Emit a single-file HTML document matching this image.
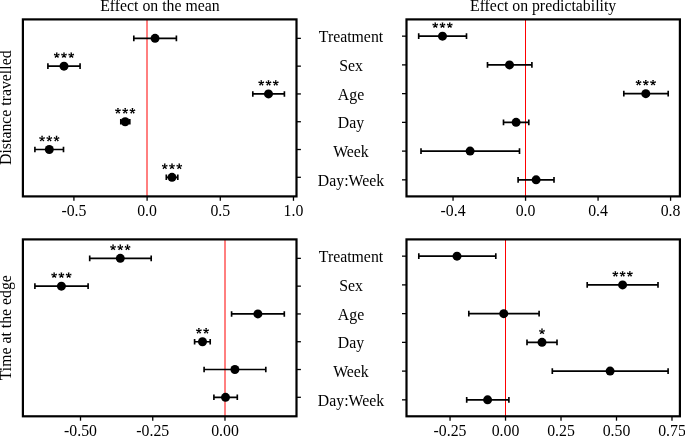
<!DOCTYPE html>
<html><head><meta charset="utf-8"><style>
html,body{margin:0;padding:0;background:#fff;width:685px;height:436px;overflow:hidden}
svg{display:block;will-change:transform}
text{font-family:'Liberation Serif', serif;font-size:15.8px;fill:#000}
</style></head><body>
<svg width="685" height="436" viewBox="0 0 685 436">
<defs><path id="st" d="M0.350 0.000L0.850 -2.850L-0.850 -2.850L-0.350 -0.000ZM0.108 0.333L2.973 -0.072L2.448 -1.689L-0.108 -0.333ZM-0.283 0.206L0.988 2.805L2.363 1.806L0.283 -0.206ZM-0.283 -0.206L-2.363 1.806L-0.988 2.805L0.283 0.206ZM0.108 -0.333L-2.448 -1.689L-2.973 -0.072L-0.108 0.333Z"/></defs>
<line x1="147.0" y1="19.4" x2="147.0" y2="196.4" stroke="#ff0000" stroke-width="1"/>
<line x1="73.91" y1="196.4" x2="73.91" y2="200.8" stroke="#000" stroke-width="1.3"/>
<text x="73.91" y="216.0" text-anchor="middle">-0.5</text>
<line x1="147.1" y1="196.4" x2="147.1" y2="200.8" stroke="#000" stroke-width="1.3"/>
<text x="147.1" y="216.0" text-anchor="middle">0.0</text>
<line x1="220.28" y1="196.4" x2="220.28" y2="200.8" stroke="#000" stroke-width="1.3"/>
<text x="220.28" y="216.0" text-anchor="middle">0.5</text>
<line x1="293.47" y1="196.4" x2="293.47" y2="200.8" stroke="#000" stroke-width="1.3"/>
<text x="293.47" y="216.0" text-anchor="middle">1.0</text>
<line x1="296.5" y1="38.36" x2="300.9" y2="38.36" stroke="#000" stroke-width="1.3"/>
<line x1="296.5" y1="66.15" x2="300.9" y2="66.15" stroke="#000" stroke-width="1.3"/>
<line x1="296.5" y1="93.94" x2="300.9" y2="93.94" stroke="#000" stroke-width="1.3"/>
<line x1="296.5" y1="121.73" x2="300.9" y2="121.73" stroke="#000" stroke-width="1.3"/>
<line x1="296.5" y1="149.52" x2="300.9" y2="149.52" stroke="#000" stroke-width="1.3"/>
<line x1="296.5" y1="177.31" x2="300.9" y2="177.31" stroke="#000" stroke-width="1.3"/>
<path d="M133.8 38.36H176.4M133.8 35.56V41.16M176.4 35.56V41.16" stroke="#000" stroke-width="1.65" fill="none"/>
<circle cx="155.05" cy="38.36" r="4.5"/>
<path d="M47.9 66.15H80.07M47.9 63.35V68.95M80.07 63.35V68.95" stroke="#000" stroke-width="1.65" fill="none"/>
<circle cx="64" cy="66.15" r="4.5"/>
<use href="#st" x="56.75" y="55.25"/>
<use href="#st" x="64" y="55.25"/>
<use href="#st" x="71.25" y="55.25"/>
<path d="M252.8 93.94H284.4M252.8 91.14V96.74M284.4 91.14V96.74" stroke="#000" stroke-width="1.65" fill="none"/>
<circle cx="268.5" cy="93.94" r="4.5"/>
<use href="#st" x="261.25" y="83.04"/>
<use href="#st" x="268.5" y="83.04"/>
<use href="#st" x="275.75" y="83.04"/>
<path d="M120.8 121.73H129.8M120.8 118.93V124.53M129.8 118.93V124.53" stroke="#000" stroke-width="1.65" fill="none"/>
<circle cx="125.2" cy="121.73" r="4.5"/>
<use href="#st" x="117.95" y="110.83"/>
<use href="#st" x="125.2" y="110.83"/>
<use href="#st" x="132.45" y="110.83"/>
<path d="M34.9 149.52H63.5M34.9 146.72V152.32M63.5 146.72V152.32" stroke="#000" stroke-width="1.65" fill="none"/>
<circle cx="49.3" cy="149.52" r="4.5"/>
<use href="#st" x="42.05" y="138.62"/>
<use href="#st" x="49.3" y="138.62"/>
<use href="#st" x="56.55" y="138.62"/>
<path d="M166.3 177.31H177.8M166.3 174.51V180.11M177.8 174.51V180.11" stroke="#000" stroke-width="1.65" fill="none"/>
<circle cx="172" cy="177.31" r="4.5"/>
<use href="#st" x="164.75" y="166.41"/>
<use href="#st" x="172" y="166.41"/>
<use href="#st" x="179.25" y="166.41"/>
<rect x="22.9" y="19.4" width="273.6" height="177" fill="none" stroke="#000" stroke-width="2.2"/>
<line x1="525.5" y1="19.4" x2="525.5" y2="196.4" stroke="#ff0000" stroke-width="1"/>
<line x1="453.05" y1="196.4" x2="453.05" y2="200.8" stroke="#000" stroke-width="1.3"/>
<text x="453.05" y="216.0" text-anchor="middle">-0.4</text>
<line x1="525.56" y1="196.4" x2="525.56" y2="200.8" stroke="#000" stroke-width="1.3"/>
<text x="525.56" y="216.0" text-anchor="middle">0.0</text>
<line x1="598.07" y1="196.4" x2="598.07" y2="200.8" stroke="#000" stroke-width="1.3"/>
<text x="598.07" y="216.0" text-anchor="middle">0.4</text>
<line x1="670.58" y1="196.4" x2="670.58" y2="200.8" stroke="#000" stroke-width="1.3"/>
<text x="670.58" y="216.0" text-anchor="middle">0.8</text>
<line x1="402.0" y1="36.15" x2="406.5" y2="36.15" stroke="#000" stroke-width="1.3"/>
<line x1="402.0" y1="64.89" x2="406.5" y2="64.89" stroke="#000" stroke-width="1.3"/>
<line x1="402.0" y1="93.63" x2="406.5" y2="93.63" stroke="#000" stroke-width="1.3"/>
<line x1="402.0" y1="122.37" x2="406.5" y2="122.37" stroke="#000" stroke-width="1.3"/>
<line x1="402.0" y1="151.11" x2="406.5" y2="151.11" stroke="#000" stroke-width="1.3"/>
<line x1="402.0" y1="179.85" x2="406.5" y2="179.85" stroke="#000" stroke-width="1.3"/>
<path d="M418.7 36.15H466.5M418.7 33.35V38.95M466.5 33.35V38.95" stroke="#000" stroke-width="1.65" fill="none"/>
<circle cx="442.5" cy="36.15" r="4.5"/>
<use href="#st" x="435.25" y="25.25"/>
<use href="#st" x="442.5" y="25.25"/>
<use href="#st" x="449.75" y="25.25"/>
<path d="M487.5 64.89H531.9M487.5 62.09V67.69M531.9 62.09V67.69" stroke="#000" stroke-width="1.65" fill="none"/>
<circle cx="509.5" cy="64.89" r="4.5"/>
<path d="M623.8 93.63H668.2M623.8 90.83V96.43M668.2 90.83V96.43" stroke="#000" stroke-width="1.65" fill="none"/>
<circle cx="645.8" cy="93.63" r="4.5"/>
<use href="#st" x="638.55" y="82.73"/>
<use href="#st" x="645.8" y="82.73"/>
<use href="#st" x="653.05" y="82.73"/>
<path d="M503.5 122.37H528.8M503.5 119.57V125.17M528.8 119.57V125.17" stroke="#000" stroke-width="1.65" fill="none"/>
<circle cx="516.1" cy="122.37" r="4.5"/>
<path d="M421 151.11H519.5M421 148.31V153.91M519.5 148.31V153.91" stroke="#000" stroke-width="1.65" fill="none"/>
<circle cx="470.1" cy="151.11" r="4.5"/>
<path d="M518.1 179.85H554M518.1 177.05V182.65M554 177.05V182.65" stroke="#000" stroke-width="1.65" fill="none"/>
<circle cx="536.1" cy="179.85" r="4.5"/>
<rect x="406.5" y="19.4" width="273.4" height="177" fill="none" stroke="#000" stroke-width="2.2"/>
<line x1="225.0" y1="239.4" x2="225.0" y2="416.3" stroke="#ff0000" stroke-width="1"/>
<line x1="80.5" y1="416.3" x2="80.5" y2="420.7" stroke="#000" stroke-width="1.3"/>
<text x="80.5" y="436.0" text-anchor="middle">-0.50</text>
<line x1="152.74" y1="416.3" x2="152.74" y2="420.7" stroke="#000" stroke-width="1.3"/>
<text x="152.74" y="436.0" text-anchor="middle">-0.25</text>
<line x1="224.98" y1="416.3" x2="224.98" y2="420.7" stroke="#000" stroke-width="1.3"/>
<text x="224.98" y="436.0" text-anchor="middle">0.00</text>
<line x1="296.5" y1="258.36" x2="300.9" y2="258.36" stroke="#000" stroke-width="1.3"/>
<line x1="296.5" y1="286.15" x2="300.9" y2="286.15" stroke="#000" stroke-width="1.3"/>
<line x1="296.5" y1="313.94" x2="300.9" y2="313.94" stroke="#000" stroke-width="1.3"/>
<line x1="296.5" y1="341.73" x2="300.9" y2="341.73" stroke="#000" stroke-width="1.3"/>
<line x1="296.5" y1="369.52" x2="300.9" y2="369.52" stroke="#000" stroke-width="1.3"/>
<line x1="296.5" y1="397.31" x2="300.9" y2="397.31" stroke="#000" stroke-width="1.3"/>
<path d="M89.7 258.36H151.2M89.7 255.56V261.16M151.2 255.56V261.16" stroke="#000" stroke-width="1.65" fill="none"/>
<circle cx="120.3" cy="258.36" r="4.5"/>
<use href="#st" x="113.05" y="247.46"/>
<use href="#st" x="120.3" y="247.46"/>
<use href="#st" x="127.55" y="247.46"/>
<path d="M34.9 286.15H88.1M34.9 283.35V288.95M88.1 283.35V288.95" stroke="#000" stroke-width="1.65" fill="none"/>
<circle cx="61.4" cy="286.15" r="4.5"/>
<use href="#st" x="54.15" y="275.25"/>
<use href="#st" x="61.4" y="275.25"/>
<use href="#st" x="68.65" y="275.25"/>
<path d="M231.6 313.94H284.3M231.6 311.14V316.74M284.3 311.14V316.74" stroke="#000" stroke-width="1.65" fill="none"/>
<circle cx="257.9" cy="313.94" r="4.5"/>
<path d="M194.6 341.73H210.2M194.6 338.93V344.53M210.2 338.93V344.53" stroke="#000" stroke-width="1.65" fill="none"/>
<circle cx="202.5" cy="341.73" r="4.5"/>
<use href="#st" x="198.88" y="330.83"/>
<use href="#st" x="206.12" y="330.83"/>
<path d="M204.1 369.52H265.8M204.1 366.72V372.32M265.8 366.72V372.32" stroke="#000" stroke-width="1.65" fill="none"/>
<circle cx="234.9" cy="369.52" r="4.5"/>
<path d="M213.9 397.31H237.3M213.9 394.51V400.11M237.3 394.51V400.11" stroke="#000" stroke-width="1.65" fill="none"/>
<circle cx="225.5" cy="397.31" r="4.5"/>
<rect x="22.9" y="239.4" width="273.6" height="176.9" fill="none" stroke="#000" stroke-width="2.2"/>
<line x1="505.5" y1="239.4" x2="505.5" y2="416.3" stroke="#ff0000" stroke-width="1"/>
<line x1="450.05" y1="416.3" x2="450.05" y2="420.7" stroke="#000" stroke-width="1.3"/>
<text x="450.05" y="436.0" text-anchor="middle">-0.25</text>
<line x1="505.53" y1="416.3" x2="505.53" y2="420.7" stroke="#000" stroke-width="1.3"/>
<text x="505.53" y="436.0" text-anchor="middle">0.00</text>
<line x1="561.01" y1="416.3" x2="561.01" y2="420.7" stroke="#000" stroke-width="1.3"/>
<text x="561.01" y="436.0" text-anchor="middle">0.25</text>
<line x1="616.5" y1="416.3" x2="616.5" y2="420.7" stroke="#000" stroke-width="1.3"/>
<text x="616.5" y="436.0" text-anchor="middle">0.50</text>
<line x1="671.98" y1="416.3" x2="671.98" y2="420.7" stroke="#000" stroke-width="1.3"/>
<text x="671.98" y="436.0" text-anchor="middle">0.75</text>
<line x1="402.0" y1="256.15" x2="406.5" y2="256.15" stroke="#000" stroke-width="1.3"/>
<line x1="402.0" y1="284.89" x2="406.5" y2="284.89" stroke="#000" stroke-width="1.3"/>
<line x1="402.0" y1="313.63" x2="406.5" y2="313.63" stroke="#000" stroke-width="1.3"/>
<line x1="402.0" y1="342.37" x2="406.5" y2="342.37" stroke="#000" stroke-width="1.3"/>
<line x1="402.0" y1="371.11" x2="406.5" y2="371.11" stroke="#000" stroke-width="1.3"/>
<line x1="402.0" y1="399.85" x2="406.5" y2="399.85" stroke="#000" stroke-width="1.3"/>
<path d="M418.8 256.15H495.8M418.8 253.35V258.95M495.8 253.35V258.95" stroke="#000" stroke-width="1.65" fill="none"/>
<circle cx="457" cy="256.15" r="4.5"/>
<path d="M587.2 284.89H658M587.2 282.09V287.69M658 282.09V287.69" stroke="#000" stroke-width="1.65" fill="none"/>
<circle cx="622.6" cy="284.89" r="4.5"/>
<use href="#st" x="615.35" y="273.99"/>
<use href="#st" x="622.6" y="273.99"/>
<use href="#st" x="629.85" y="273.99"/>
<path d="M468.8 313.63H539.1M468.8 310.83V316.43M539.1 310.83V316.43" stroke="#000" stroke-width="1.65" fill="none"/>
<circle cx="503.75" cy="313.63" r="4.5"/>
<path d="M527 342.37H557M527 339.57V345.17M557 339.57V345.17" stroke="#000" stroke-width="1.65" fill="none"/>
<circle cx="542" cy="342.37" r="4.5"/>
<use href="#st" x="542" y="331.47"/>
<path d="M552.3 371.11H668.1M552.3 368.31V373.91M668.1 368.31V373.91" stroke="#000" stroke-width="1.65" fill="none"/>
<circle cx="610.1" cy="371.11" r="4.5"/>
<path d="M466.7 399.85H508.9M466.7 397.05V402.65M508.9 397.05V402.65" stroke="#000" stroke-width="1.65" fill="none"/>
<circle cx="487.6" cy="399.85" r="4.5"/>
<rect x="406.5" y="239.4" width="273.4" height="176.9" fill="none" stroke="#000" stroke-width="2.2"/>
<text x="351" y="42.15" text-anchor="middle">Treatment</text>
<text x="351" y="262.15" text-anchor="middle">Treatment</text>
<text x="351" y="70.89" text-anchor="middle">Sex</text>
<text x="351" y="290.89" text-anchor="middle">Sex</text>
<text x="351" y="99.63" text-anchor="middle">Age</text>
<text x="351" y="319.63" text-anchor="middle">Age</text>
<text x="351" y="128.37" text-anchor="middle">Day</text>
<text x="351" y="348.37" text-anchor="middle">Day</text>
<text x="351" y="157.11" text-anchor="middle">Week</text>
<text x="351" y="377.11" text-anchor="middle">Week</text>
<text x="351" y="185.85" text-anchor="middle">Day:Week</text>
<text x="351" y="405.85" text-anchor="middle">Day:Week</text>
<text x="159.9" y="10.8" text-anchor="middle">Effect on the mean</text>
<text x="543.1" y="10.8" text-anchor="middle">Effect on predictability</text>
<text transform="translate(10.7 107.7) rotate(-90)" text-anchor="middle">Distance travelled</text>
<text transform="translate(10.7 327.7) rotate(-90)" text-anchor="middle">Time at the edge</text>
</svg>
</body></html>
